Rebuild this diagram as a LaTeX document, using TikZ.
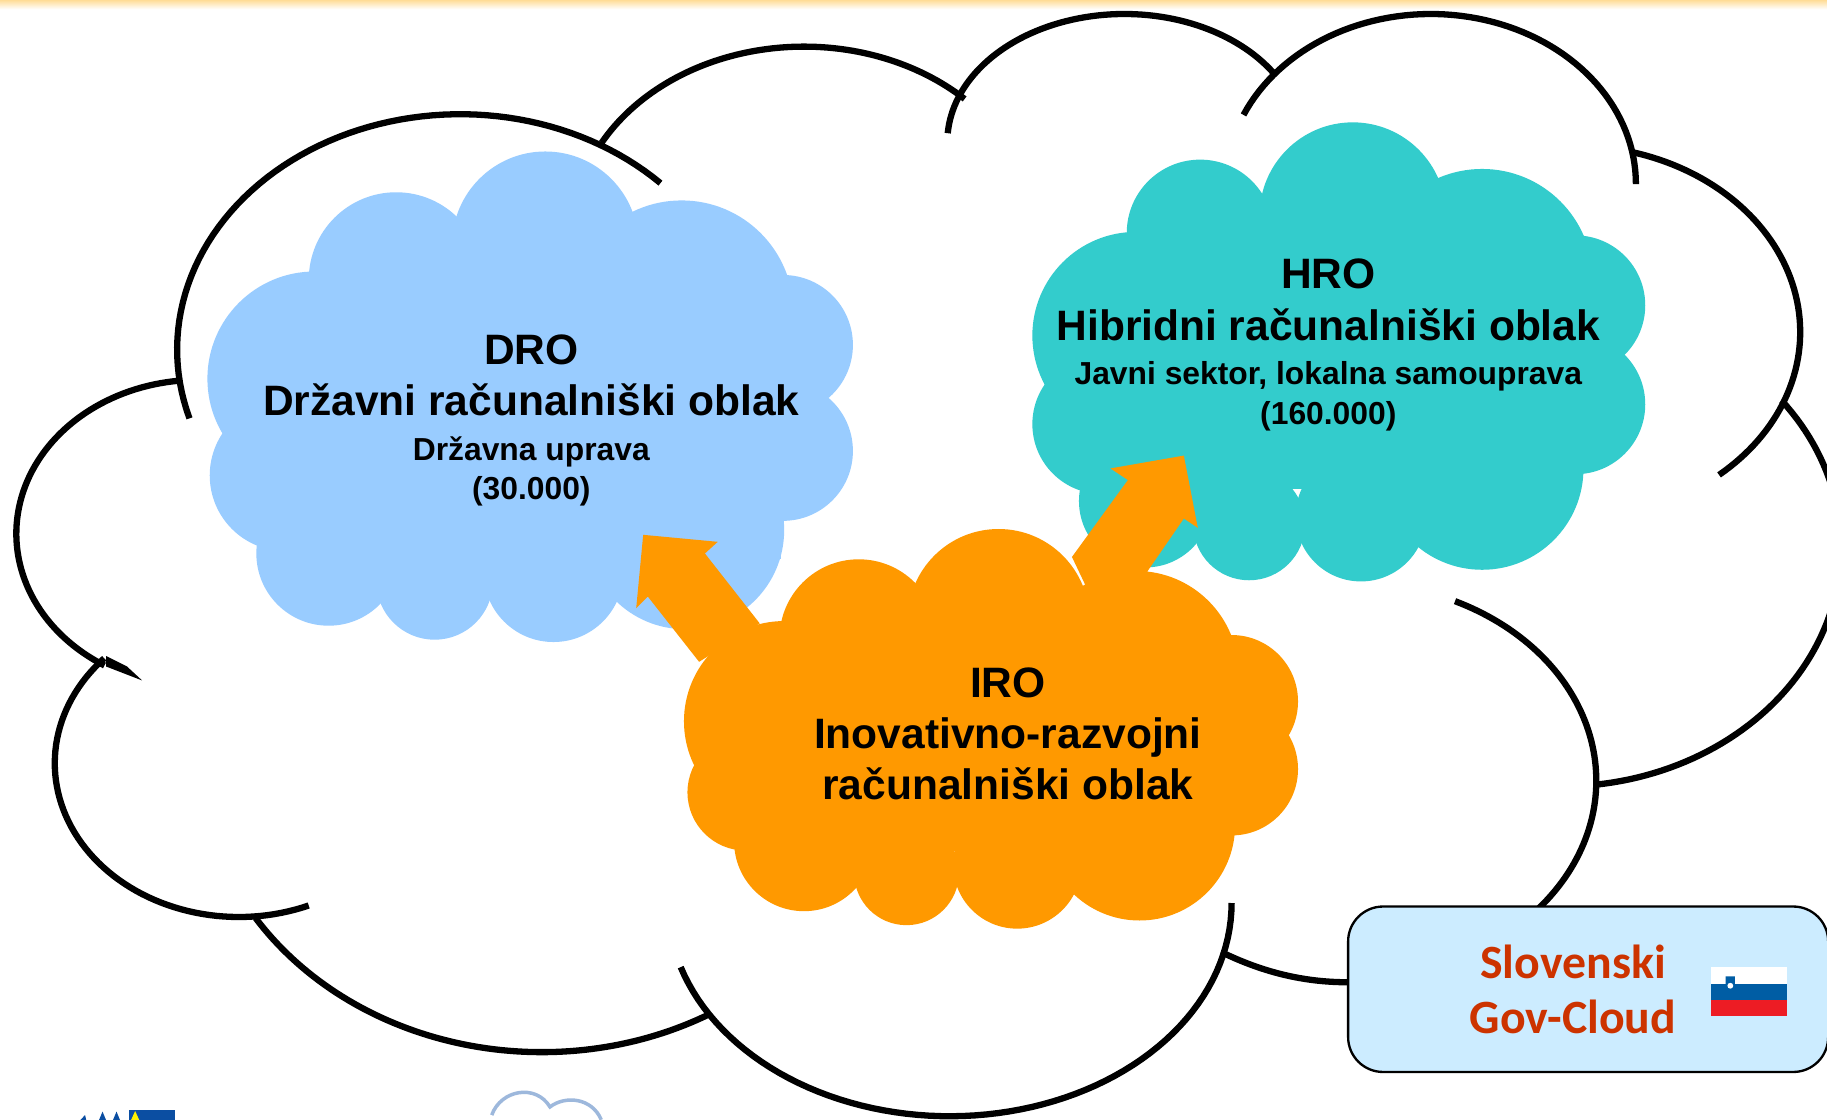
\documentclass[tikz,border=0pt]{standalone}
\usepackage{fontspec}
\setmainfont{Liberation Sans}
\newfontfamily\carlitofont{Carlito}
\definecolor{droblue}{HTML}{99CCFF}
\definecolor{hroteal}{HTML}{33CCCC}
\definecolor{iroorange}{HTML}{FF9900}
\definecolor{boxblue}{HTML}{CCECFF}
\definecolor{boxred}{HTML}{CC3300}
\definecolor{flagblue}{HTML}{005DA4}
\definecolor{flagred}{HTML}{ED1C24}
\definecolor{bandtop}{HTML}{FFDC96}
\definecolor{eublue}{HTML}{0B4EA2}
\definecolor{logoblue}{HTML}{9DB8DC}
\newcommand{\subline}{\fontsize{27.3}{0}\selectfont}
% elliptical outline piece: centre x, centre y, radius x, radius y, start angle, end angle (angles run clockwise on the page)
\newcommand{\earc}[6]{\draw[outline] plot[domain=#5:#6,samples=70] ({#1+#2*0+#3*cos(\x)},{#2+#4*sin(\x)});}
% cloud: colour, list of x/y/r bumps
\newcommand{\cloudblob}[2]{\foreach \cx/\cy/\cr in {#2} {\fill[#1] (\cx,\cy) circle[radius=\cr];}}
\tikzset{
  outline/.style={line width=5.4pt,draw=black,line cap=butt,line join=round},
  cloudlabel/.style={font=\fontsize{36.5}{44}\selectfont\bfseries,align=center,inner sep=0pt,text=black},
  govlabel/.style={font=\fontsize{41}{47}\selectfont\bfseries\carlitofont,align=center,inner sep=0pt,text=boxred},
}
\begin{document}
\begin{tikzpicture}[x=1pt,y=-1pt]
\useasboundingbox (0,0) rectangle (1568,961.2);
\fill[white] (0,0) rectangle (1568,961.2);
\shade[top color=bandtop,bottom color=white] (0,0) rectangle (1568,8);

% outer cloud arcs
\earc{395}{300}{243}{202}{163}{315}
\earc{690}{200}{198.5}{160}{209}{314}
\earc{965}{122}{152}{110}{184}{327.5}
\earc{1228}{158}{176}{146}{204}{360}
\earc{1350}{285}{195}{160}{285}{410}
\earc{1340}{470}{240}{205}{322}{443}
\earc{1160}{670}{210}{170}{295}{400}
\draw[outline] (1157,843) .. controls (1120,843) and (1085,835) .. (1048,817);
\earc{815}{775}{242}{183}{0}{162.5}
\earc{465}{650}{293}{253}{60.4}{147}
\earc{205}{655}{158}{132}{67.7}{223}
\earc{170}{458}{156}{132}{264.5}{121}
\fill[black] (91,563) -- (109,572) -- (122,584) -- (91,572) -- cycle;

% DRO cloud
\cloudblob{droblue}{340/240/75,468/210/80,585/268/96,270/325/92,672/296/60,672/387/60,245/408/65,282/475/62,373/499/50,475/491/60,588/455/85}
\fill[droblue] (280,240) rectangle (670,480);

% HRO cloud
\cloudblob{hroteal}{1030/200/63,1161/185/80,1272/240/95,975/288/89,1352/262/60,1352/347/60,946/364/60,983/430/57,1072/450/48,1168/443/56,1272/402/87}
\fill[hroteal] (1000,200) rectangle (1350,420);

% block arrows
\fill[iroorange] (552,459) -- (616,465) -- (605,475) -- (652,535) -- (600,568) -- (556,512) -- (546,522) -- cycle;
\fill[iroorange] (1016,391) -- (953,402) -- (968,412) -- (920,478) -- (940,520) -- (985,520) -- (985,490) -- (1016,445) -- (1028,453) -- cycle;

% IRO cloud
\cloudblob{iroorange}{737/548/68,857/532/78,975/578/88,673/619/86,1057/602/57,1057/660/57,640/680/50,690/722/60,778/749/45,873/742/55,978/708/82}
\fill[iroorange] (680,570) rectangle (1055,730);

\node[cloudlabel] (dro) at (456,361) {DRO\\Državni računalniški oblak\\[-6pt]{\subline Državna uprava}\\[-10pt]{\subline (30.000)}};
\node[cloudlabel] (hro) at (1140,296) {HRO\\Hibridni računalniški oblak\\[-6pt]{\subline Javni sektor, lokalna samouprava}\\[-10pt]{\subline (160.000)}};
\node[cloudlabel] (iro) at (865,630) {IRO\\Inovativno-razvojni\\računalniški oblak};

% Slovenski Gov-Cloud box
\draw[fill=boxblue,draw=black,line width=2pt,rounded corners=30pt] (1157,778) rectangle (1569,920);
\node[govlabel] (gov) at (1350,849) {Slovenski\\Gov-Cloud};
\fill[white] (1468.6,830) rectangle (1533.9,844.6);
\fill[flagblue] (1468.6,844.6) rectangle (1533.9,858.5);
\fill[flagred] (1468.6,858.5) rectangle (1533.9,872);
\fill[flagblue] (1481,838) -- (1489,838) -- (1489,847) -- (1485,852) -- (1481,847) -- cycle;
\fill[white] (1485,846) circle[radius=2.5];

% logos cut off by the lower edge
\fill[eublue] (110.5,953) rectangle (150,962);
\fill[eublue] (85,961.2) -- (88,954) -- (91,961.2) -- cycle;
\fill[eublue] (97,961.2) -- (100,954) -- (103,961.2) -- cycle;
\fill[eublue] (69,961.2) -- (73,957) -- (74,961.2) -- cycle;
\fill[yellow] (112.5,961.2) -- (116,953.5) -- (119.5,961.2) -- cycle;
\draw[logoblue,line width=3pt] (422,957) .. controls (430,935) and (460,930) .. (472,950)
  .. controls (485,940) and (508,942) .. (516,961);
\end{tikzpicture}
\end{document}
